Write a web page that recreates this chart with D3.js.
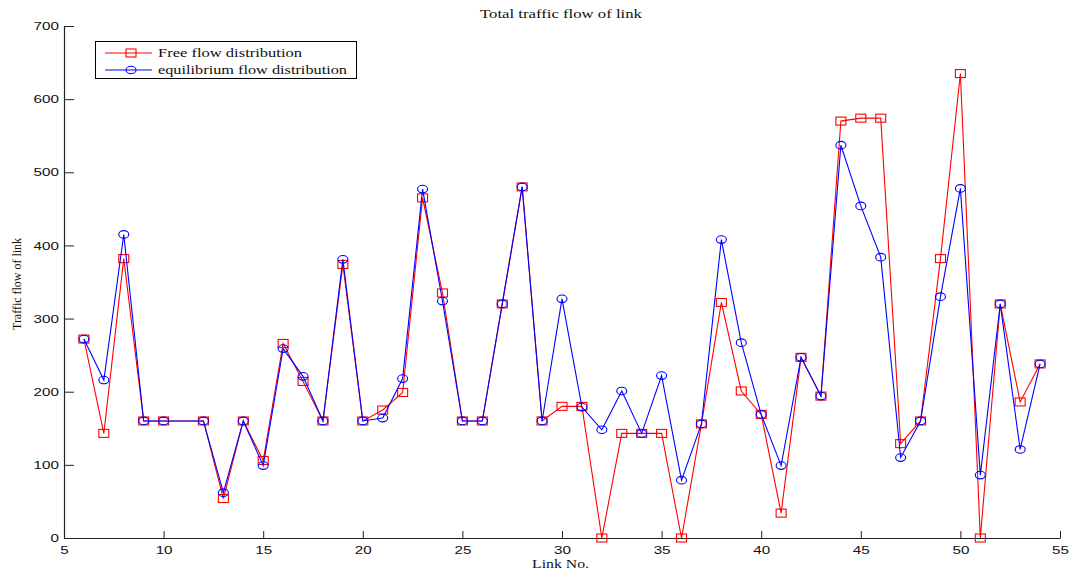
<!DOCTYPE html>
<html>
<head>
<meta charset="utf-8">
<script src="https://cdn.jsdelivr.net/npm/d3@7"></script>
<style>
  html, body { margin: 0; padding: 0; background: #fff; }
  svg { display: block; }
</style>
</head>
<body>
<svg id="chart" width="1069" height="573"></svg>
<script>
const linkNo = [6,7,8,9,10,12,13,14,15,16,17,18,19,20,21,22,23,24,25,26,27,28,29,30,31,32,33,34,35,36,37,38,39,40,41,42,43,44,45,46,47,48,49,50,51,52,53,54];
const freeFlow = [272,143,382,160,160,160,54,160,106,266,214,160,374,160,175,199,465,335,160,160,320,480,160,180,180,0,143,143,143,0,156,322,201,169,34,247,194,570,574,574,129,160,382,635,0,320,186,238];
const equilibriumFlow = [272,216,415,160,160,160,62,160,99,259,221,160,381,160,164,218,477,324,160,160,320,480,160,327,179,148,201,143,222,79,156,408,267,169,99,247,194,537,454,384,110,160,330,478,86,320,121,238];
const xTicks = [5,10,15,20,25,30,35,40,45,50,55];
const yTicks = [0,100,200,300,400,500,600,700];
const seriesNames = ["Free flow distribution", "equilibrium flow distribution"];
const titleText = "Total traffic flow of link";
const xLabel = "Link No.";
const yLabel = "Traffic flow of link";

const svg = d3.select("#chart");
const x = d3.scaleLinear().domain([5, 55]).range([64, 1060]);
const y = d3.scaleLinear().domain([0, 700]).range([538, 26]);
const axisColor = "#222";
const tickFont = "'Liberation Sans', Arial, sans-serif";
const serif = "'Liberation Serif', 'Times New Roman', serif";

// Axes
const gx = svg.append("g").attr("transform", "translate(0,538)")
  .call(d3.axisBottom(x).tickValues(xTicks).tickSize(-7).tickSizeOuter(0).tickFormat(d3.format("d")));
const gy = svg.append("g").attr("transform", "translate(64,0)")
  .call(d3.axisLeft(y).tickValues(yTicks).tickSize(-10).tickSizeOuter(0).tickFormat(d3.format("d")));
[gx, gy].forEach(g => {
  g.select(".domain").attr("stroke", axisColor).attr("stroke-width", 1.2);
  g.selectAll(".tick line").attr("stroke", axisColor).attr("stroke-width", 1);
  g.selectAll(".tick text").attr("fill", "#111").attr("font-family", tickFont).attr("font-size", 10.5);
});
gx.selectAll(".tick text").attr("y", 0).attr("dy", 0)
  .attr("transform", "translate(0,16) scale(1.45,1)");
gy.selectAll(".tick text").attr("x", 0).attr("dy", "0.35em").attr("text-anchor", "end")
  .attr("transform", "translate(-5,0) scale(1.45,1)");

// Lines & markers
const pts = (vals) => linkNo.map((d, i) => [d, vals[i]]);
const line = d3.line().x(d => x(d[0])).y(d => y(d[1]));

function drawSeries(vals, color, marker) {
  const g = svg.append("g");
  g.append("path").datum(pts(vals)).attr("d", line)
    .attr("fill", "none").attr("stroke", color).attr("stroke-width", 1.1);
  const sel = g.selectAll(".m").data(pts(vals)).enter();
  if (marker === "square") {
    sel.append("rect").attr("x", d => x(d[0]) - 5).attr("y", d => y(d[1]) - 4)
      .attr("width", 10).attr("height", 8)
      .attr("fill", "none").attr("stroke", color).attr("stroke-width", 1.1);
  } else {
    sel.append("ellipse").attr("cx", d => x(d[0])).attr("cy", d => y(d[1]))
      .attr("rx", 5).attr("ry", 3.8)
      .attr("fill", "none").attr("stroke", color).attr("stroke-width", 1.1);
  }
}
drawSeries(freeFlow, "#ff0000", "square");
drawSeries(equilibriumFlow, "#0000ff", "circle");

// Title and labels
svg.append("text").attr("x", 480).attr("y", 18).text(titleText)
  .attr("font-family", serif).attr("font-size", 12.5).attr("fill", "#111")
  .attr("textLength", 162).attr("lengthAdjust", "spacingAndGlyphs");
svg.append("text").attr("x", 532).attr("y", 568).text(xLabel)
  .attr("font-family", serif).attr("font-size", 12.5).attr("fill", "#111")
  .attr("textLength", 57).attr("lengthAdjust", "spacingAndGlyphs");
svg.append("text").attr("transform", "translate(21,330) rotate(-90)").text(yLabel)
  .attr("font-family", serif).attr("font-size", 12.5).attr("fill", "#111")
  .attr("textLength", 92).attr("lengthAdjust", "spacingAndGlyphs");

// Legend
const lg = svg.append("g");
lg.append("rect").attr("x", 95.5).attr("y", 41.5).attr("width", 261).attr("height", 37)
  .attr("fill", "#fff").attr("stroke", "#000").attr("stroke-width", 1);
const legendItems = [
  {name: seriesNames[0], color: "#ff0000", marker: "square", cy: 53, w: 144},
  {name: seriesNames[1], color: "#0000ff", marker: "circle", cy: 70, w: 189}
];
legendItems.forEach(it => {
  lg.append("line").attr("x1", 105).attr("x2", 152).attr("y1", it.cy).attr("y2", it.cy)
    .attr("stroke", it.color).attr("stroke-width", 1.1);
  if (it.marker === "square") {
    lg.append("rect").attr("x", 126).attr("y", it.cy - 4).attr("width", 10).attr("height", 8)
      .attr("fill", "none").attr("stroke", it.color).attr("stroke-width", 1.1);
  } else {
    lg.append("ellipse").attr("cx", 131).attr("cy", it.cy).attr("rx", 5).attr("ry", 3.8)
      .attr("fill", "none").attr("stroke", it.color).attr("stroke-width", 1.1);
  }
  lg.append("text").attr("x", 158).attr("y", it.cy + 4).text(it.name)
    .attr("font-family", serif).attr("font-size", 12.5).attr("fill", "#111")
    .attr("textLength", it.w).attr("lengthAdjust", "spacingAndGlyphs");
});
</script>
</body>
</html>
